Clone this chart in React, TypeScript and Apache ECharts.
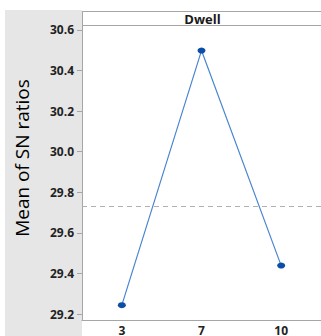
import React, { useEffect, useRef } from "react";
import * as echarts from "echarts";

const levels = ["3", "7", "10"];
const snMeans = [29.244, 30.498, 29.439];
const yTicks = [29.2, 29.4, 29.6, 29.8, 30.0, 30.2, 30.4, 30.6];
const yMin = 29.171;
const yMax = 30.624;
const factorName = "Dwell";
const yTitle = "Mean of SN ratios";

const grandMean = snMeans.reduce((a, b) => a + b, 0) / snMeans.length;

export default function App() {
  const ref = useRef<HTMLDivElement>(null);

  useEffect(() => {
    document.body.style.margin = "0";
    if (!ref.current) return;
    const chart = echarts.init(ref.current, null, { renderer: "svg" });
    const axisGray = "#a6a6a6";
    const labelFont = "'Open Sans', sans-serif";
    chart.setOption({
      animation: false,
      backgroundColor: "#ffffff",
      graphic: [
        {
          type: "rect",
          z: -10,
          shape: { x: 5, y: 10, width: 77, height: 326 },
          style: { fill: "#e6e6e6" },
          silent: true,
        },
        {
          type: "line",
          shape: { x1: 82, y1: 11.5, x2: 321, y2: 11.5 },
          style: { stroke: axisGray, lineWidth: 1 },
        },
        {
          type: "line",
          shape: { x1: 82, y1: 25.5, x2: 321, y2: 25.5 },
          style: { stroke: axisGray, lineWidth: 1 },
        },
        {
          type: "line",
          shape: { x1: 82.5, y1: 11, x2: 82.5, y2: 26 },
          style: { stroke: axisGray, lineWidth: 1 },
        },
        {
          type: "text",
          x: 202.5,
          y: 18.5,
          style: {
            text: factorName,
            fill: "#1a1a1a",
            font: "bold 13px 'Open Sans', sans-serif",
            align: "center",
            verticalAlign: "middle",
          },
        },
        {
          // rotated y-axis title, sitting on the grey side panel
          type: "text",
          x: 22,
          y: 158,
          rotation: Math.PI / 2,
          style: {
            text: yTitle,
            fill: "#000000",
            font: "19px 'Open Sans', sans-serif",
            align: "center",
            verticalAlign: "middle",
          },
        },
      ],
      grid: { left: 82, top: 25, width: 241, height: 298 },
      xAxis: {
        type: "category",
        data: levels,
        boundaryGap: true,
        axisLine: { lineStyle: { color: axisGray, width: 1 } },
        axisTick: { alignWithLabel: true, length: 4, lineStyle: { color: axisGray } },
        axisLabel: {
          color: "#222222",
          fontSize: 12,
          fontWeight: "bold",
          fontFamily: labelFont,
          margin: 4,
        },
        splitLine: { show: false },
      },
      yAxis: {
        type: "value",
        min: yMin,
        max: yMax,
        axisLine: { show: true, lineStyle: { color: axisGray, width: 1 } },
        axisTick: {
          show: true,
          length: 5,
          customValues: yTicks,
          lineStyle: { color: axisGray },
        },
        axisLabel: {
          customValues: yTicks,
          formatter: (v: number) => v.toFixed(1),
          color: "#222222",
          fontSize: 12,
          fontWeight: "bold",
          fontFamily: labelFont,
          margin: 8,
        },
        splitLine: { show: false },
      },
      series: [
        {
          type: "line",
          data: snMeans,
          symbol: "circle",
          symbolSize: [8, 6],
          itemStyle: { color: "#0a4fa5" },
          lineStyle: { color: "#4a86d0", width: 1.2 },
          markLine: {
            silent: true,
            symbol: ["none", "none"],
            label: { show: false },
            lineStyle: { color: "#b0b0b0", type: [5, 4], width: 1 },
            data: [{ yAxis: grandMean }],
          },
        },
      ],
    });
    return () => chart.dispose();
  }, []);

  return (
    <div
      ref={ref}
      style={{ position: "absolute", left: 0, top: 0, width: 321, height: 336 }}
    />
  );
}
